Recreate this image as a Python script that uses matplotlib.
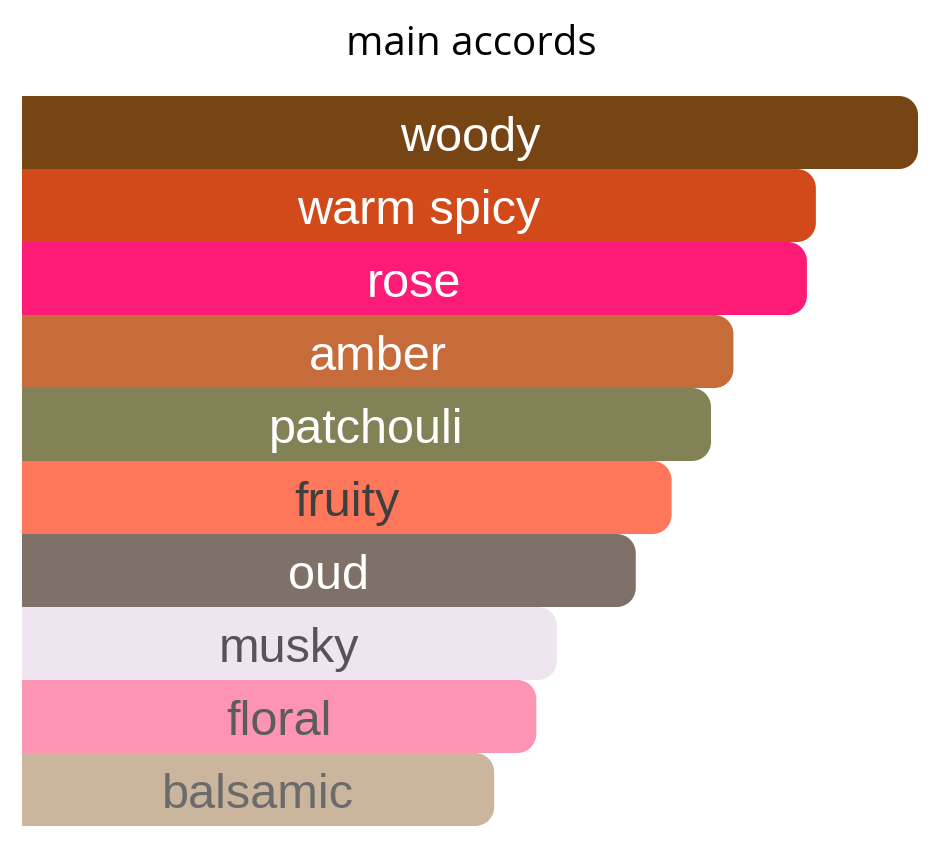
import matplotlib
matplotlib.use("Agg")
import matplotlib.pyplot as plt
from matplotlib.path import Path
from matplotlib.patches import PathPatch

accords = ["woody", "warm spicy", "rose", "amber", "patchouli",
           "fruity", "oud", "musky", "floral", "balsamic"]
strength = [100, 88.6, 87.6, 79.4, 76.9, 72.5, 68.5, 59.7, 57.4, 52.7]
bar_colors = ["#774414", "#d24a1a", "#fe1b78", "#c66b3a", "#838156",
              "#fe775a", "#7f7168", "#efe5f0", "#fe94b3", "#ccb59d"]
text_colors = ["#ffffff", "#ffffff", "#ffffff", "#ffffff", "#ffffff",
               "#3f3f3f", "#ffffff", "#57525c", "#5c5c5c", "#6b6b6b"]

W, H = 934, 853
fig = plt.figure(figsize=(W / 100, H / 100), dpi=100)
fig.patch.set_facecolor("white")

left_px, right_px, top_px, bottom_px = 22, 918, 97, 827
ax = fig.add_axes([left_px / W, (H - bottom_px) / H,
                   (right_px - left_px) / W, (bottom_px - top_px) / H])
ax.set_xlim(0, 100)
ax.set_ylim(len(accords) - 0.5, -0.5)
ax.axis("off")

# corner radius in pixels, converted to data units on each axis
radius_px = 19
rx = radius_px / (right_px - left_px) * 100
ry = radius_px / ((bottom_px - top_px) / len(accords))
k = 0.5523


def rounded_right_bar(x1, yc, h=1.0):
    y0, y1 = yc - h / 2, yc + h / 2
    verts = [
        (0, y0),
        (x1 - rx, y0),
        (x1 - rx + k * rx, y0), (x1, y0 + ry - k * ry), (x1, y0 + ry),
        (x1, y1 - ry),
        (x1, y1 - ry + k * ry), (x1 - rx + k * rx, y1), (x1 - rx, y1),
        (0, y1),
        (0, y0),
    ]
    codes = [Path.MOVETO, Path.LINETO,
             Path.CURVE4, Path.CURVE4, Path.CURVE4,
             Path.LINETO,
             Path.CURVE4, Path.CURVE4, Path.CURVE4,
             Path.LINETO, Path.CLOSEPOLY]
    return Path(verts, codes)


for i, (name, val, bc, tc) in enumerate(zip(accords, strength, bar_colors, text_colors)):
    ax.add_patch(PathPatch(rounded_right_bar(val, i), facecolor=bc,
                           edgecolor="none", zorder=2 + i * 0.01))
    ax.text(val / 2, i + 0.07, name, ha="center", va="center", color=tc,
            fontsize=35, family=["Liberation Sans", "DejaVu Sans"], zorder=5)

fig.text(471 / W, 1 - 45 / H, "main accords", ha="center", va="center",
         fontsize=29, family=["Open Sans", "DejaVu Sans"], color="#000000")

fig.savefig("out.png", dpi=100, facecolor="white")
